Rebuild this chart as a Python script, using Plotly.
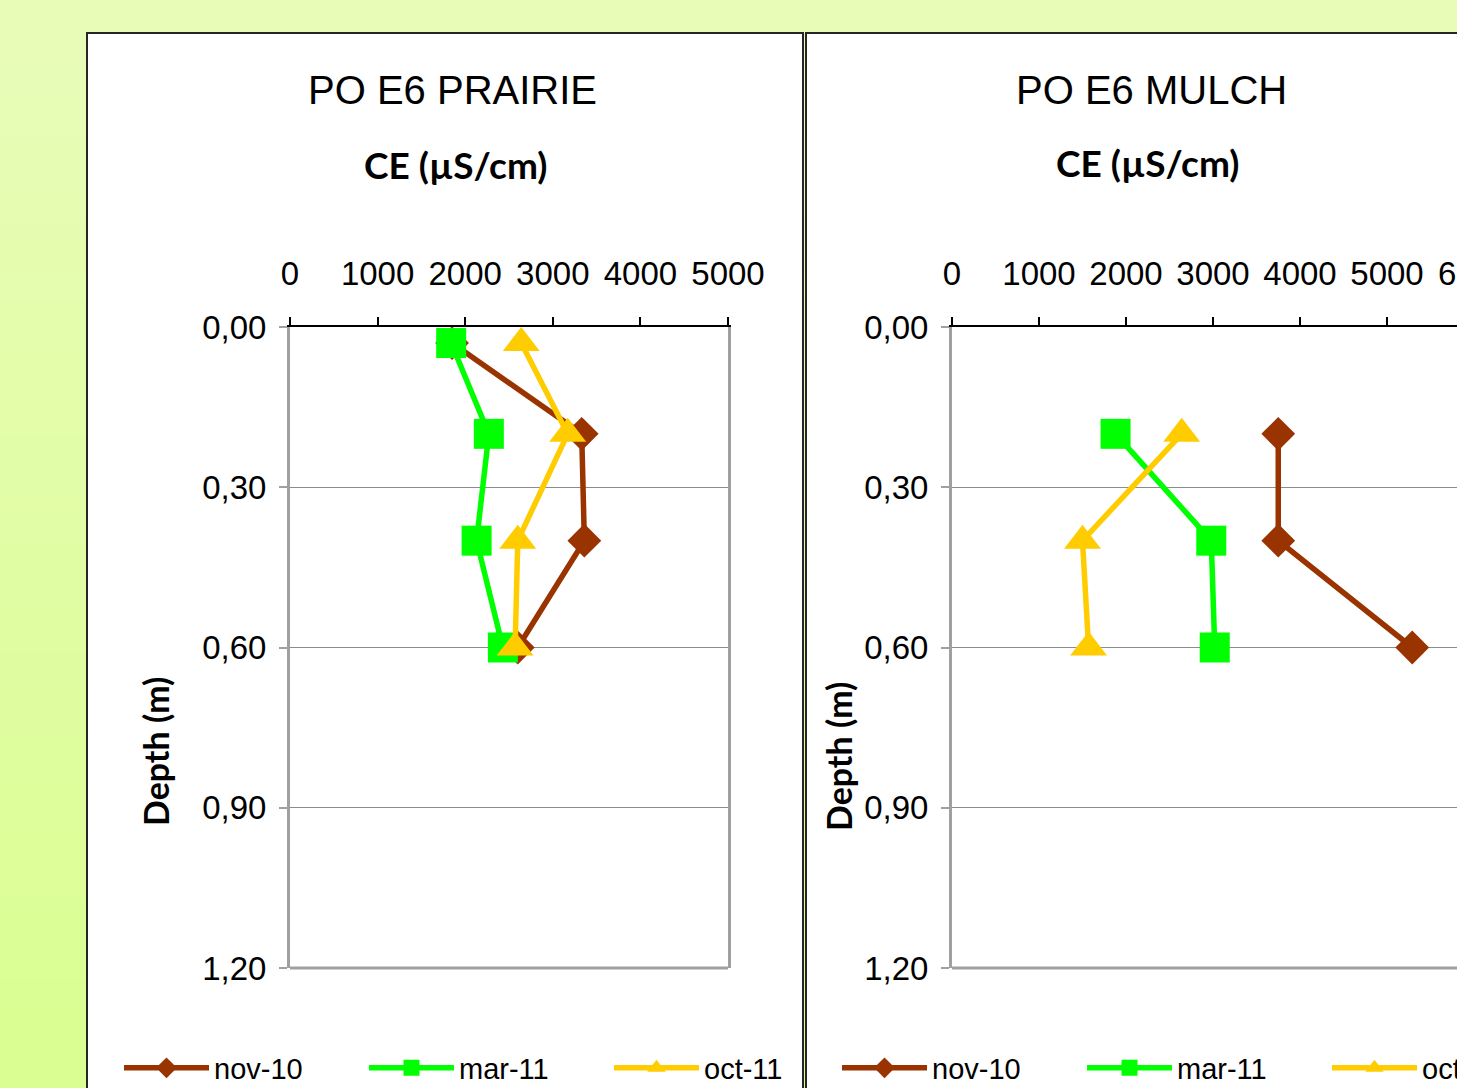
import plotly.graph_objects as go

# ---------------- data ----------------
DEPTH_PRAIRIE = [0.03, 0.20, 0.40, 0.60]
PRAIRIE_NOV10 = [1850, 3330, 3360, 2600]
PRAIRIE_MAR11 = [1840, 2270, 2130, 2430]
PRAIRIE_OCT11 = [2640, 3170, 2600, 2570]

DEPTH_MULCH = [0.20, 0.40, 0.60]
MULCH_NOV10 = [3750, 3750, 5290]
MULCH_MAR11 = [1880, 2980, 3020]
MULCH_OCT11 = [2640, 1500, 1570]

SERIES_NAMES = ["nov-10", "mar-11", "oct-11"]
X_TICKS_LEFT = [0, 1000, 2000, 3000, 4000, 5000]
X_TICKS_RIGHT = [0, 1000, 2000, 3000, 4000, 5000, 6000]
Y_TICKS = [0.0, 0.30, 0.60, 0.90, 1.20]
TITLES = ["PO E6 PRAIRIE", "PO E6 MULCH"]
X_TITLE = "CE (µS/cm)"
Y_TITLE = "Depth (m)"

# ---------------- style ----------------
W, H = 1457, 1088
COLORS = ["#993300", "#00FF00", "#FFCC00"]
SYMBOLS = ["diamond", "square", "triangle-up"]
SIZES = [26, 30, 32]
ARIAL = "Liberation Sans, Arial, sans-serif"
CALIBRI = "Lato, Carlito, Calibri, sans-serif"


def px(x):
    return x / W


def py(y):
    return 1 - y / H


fig = go.Figure()

left_sets = [PRAIRIE_NOV10, PRAIRIE_MAR11, PRAIRIE_OCT11]
right_sets = [MULCH_NOV10, MULCH_MAR11, MULCH_OCT11]

for i, name in enumerate(SERIES_NAMES):
    fig.add_trace(go.Scatter(
        x=left_sets[i], y=DEPTH_PRAIRIE, name=name, mode="lines+markers",
        line=dict(color=COLORS[i], width=5.5),
        marker=dict(symbol=SYMBOLS[i], size=SIZES[i], color=COLORS[i]),
        xaxis="x", yaxis="y", legend="legend", cliponaxis=False,
    ))
for i, name in enumerate(SERIES_NAMES):
    fig.add_trace(go.Scatter(
        x=right_sets[i], y=DEPTH_MULCH, name=name, mode="lines+markers",
        line=dict(color=COLORS[i], width=5.5),
        marker=dict(symbol=SYMBOLS[i], size=SIZES[i], color=COLORS[i]),
        xaxis="x2", yaxis="y2", legend="legend2", cliponaxis=False,
    ))

# background gradient bands + panels
shapes = []
top_c = (232, 252, 184)
bot_c = (218, 254, 145)
N = 40
for k in range(N):
    t = k / (N - 1)
    c = tuple(round(top_c[j] + (bot_c[j] - top_c[j]) * t) for j in range(3))
    shapes.append(dict(type="rect", xref="paper", yref="paper",
                       x0=0, x1=1, y0=1 - (k + 1) / N - 0.002, y1=1 - k / N,
                       fillcolor="rgb(%d,%d,%d)" % c, line=dict(width=0), layer="below"))
shapes.append(dict(type="rect", xref="paper", yref="paper",
                   x0=px(87), x1=px(803), y0=-0.2, y1=py(33),
                   fillcolor="white", line=dict(color="#262626", width=2), layer="below"))
shapes.append(dict(type="rect", xref="paper", yref="paper",
                   x0=px(806), x1=1.2, y0=-0.2, y1=py(33),
                   fillcolor="white", line=dict(color="#262626", width=2), layer="below"))
# bottom border of plot areas
for xa, ya in (("x", "y"), ("x2", "y2")):
    shapes.append(dict(type="line", xref=xa + " domain", yref=ya + " domain",
                       x0=0, x1=1 if xa == "x" else 1.2, y0=0, y1=0,
                       line=dict(color="#A0A0A0", width=3), layer="above"))

right_max = 5000 * (W - 952) / (728 - 290) * (87.6 / 87.0)

common_x = dict(side="top", showline=True, linecolor="black", linewidth=1.5,
                ticks="outside", ticklen=8, tickcolor="black", tickwidth=1.5,
                showgrid=False, zeroline=False, tickformat="d", tickangle=0,
                tickfont=dict(family=ARIAL, size=33, color="black"),
                ticklabelstandoff=19, fixedrange=True)
common_y = dict(range=[1.2, 0], tickvals=Y_TICKS, tickformat=".2f",
                showline=True, linecolor="#A0A0A0", linewidth=3,
                ticks="outside", ticklen=8, tickcolor="#A0A0A0", tickwidth=1.5,
                showgrid=True, gridcolor="#8C8C8C", gridwidth=1, zeroline=False,
                tickfont=dict(family=ARIAL, size=33, color="black"),
                ticklabelstandoff=6, fixedrange=True)

legend_common = dict(orientation="h", yanchor="middle", xanchor="left",
                     itemwidth=85, entrywidth=145, entrywidthmode="pixels",
                     font=dict(family=ARIAL, size=29, color="black"),
                     bgcolor="rgba(0,0,0,0)", traceorder="normal")

fig.update_layout(
    width=W, height=H,
    margin=dict(l=0, r=0, t=0, b=0, autoexpand=False),
    paper_bgcolor="#E2FDA5", plot_bgcolor="white",
    separators=",.",
    shapes=shapes,
    xaxis=dict(domain=[px(290), px(728)], range=[0, 5000], tickvals=X_TICKS_LEFT,
               anchor="y", **common_x),
    yaxis=dict(domain=[py(968), py(327)], anchor="x", mirror=True, **common_y),
    xaxis2=dict(domain=[px(952), 1.0], range=[0, right_max], tickvals=X_TICKS_RIGHT,
                anchor="y2", **common_x),
    yaxis2=dict(domain=[py(968), py(327)], anchor="x2", **common_y),
    legend=dict(x=px(119), y=py(1068), **legend_common),
    legend2=dict(x=px(837), y=py(1068), **legend_common),
)

annotations = []
for title, cx in zip(TITLES, (453, 1151)):
    annotations.append(dict(text=title, xref="paper", yref="paper", x=px(cx), y=py(90),
                            showarrow=False, xanchor="center", yanchor="middle",
                            font=dict(family=ARIAL, size=40, color="black")))
for cx, cy in ((455, 165), (1147, 162)):
    annotations.append(dict(text="<b>%s</b>" % X_TITLE, xref="paper", yref="paper",
                            x=px(cx), y=py(cy), showarrow=False, xanchor="center",
                            yanchor="middle", font=dict(family=CALIBRI, size=37, color="black")))
for cx, cy in ((155, 752), (838, 757)):
    annotations.append(dict(text="<b>%s</b>" % Y_TITLE, xref="paper", yref="paper",
                            x=px(cx), y=py(cy), showarrow=False, textangle=-90,
                            xanchor="center", yanchor="middle",
                            font=dict(family=CALIBRI, size=34, color="black")))
# right-axis tick label that falls beyond the visible page edge (cut off as in the original)
for v in X_TICKS_RIGHT:
    if v > right_max:
        annotations.append(dict(text=str(v), xref="x2 domain", yref="y2 domain",
                                x=v / right_max, y=1, yshift=33, showarrow=False,
                                xanchor="center", yanchor="bottom",
                                font=dict(family=ARIAL, size=33, color="black")))
fig.update_layout(annotations=annotations)

fig.write_html("out.html", config={"displayModeBar": False},
               post_script="document.body.style.margin='0';")
